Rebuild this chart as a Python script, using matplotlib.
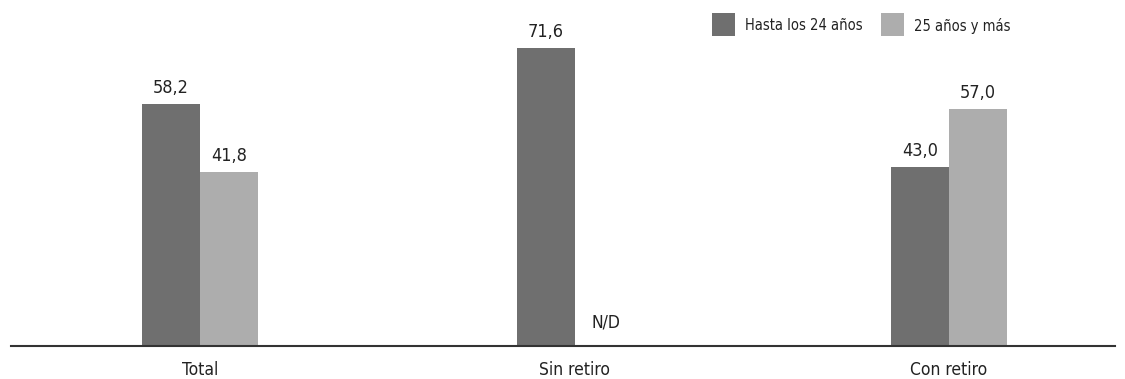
import matplotlib
matplotlib.use("Agg")
import matplotlib.pyplot as plt
from matplotlib.patches import Rectangle
import numpy as np

plt.rcParams['font.family'] = ['DejaVu Sans']
plt.rcParams['font.stretch'] = 'condensed'

categories = ["Total", "Sin retiro", "Con retiro"]
series_names = ["Hasta los 24 años", "25 años y más"]
young = [58.2, 71.6, 43.0]
older = [41.8, None, 57.0]
missing_label = "N/D"

dark = "#6f6f6f"
light = "#adadad"
txt = "#222222"

W, H = 1125, 379
fig = plt.figure(figsize=(W / 100, H / 100), dpi=100)
ax = fig.add_axes([11 / W, 1 - 346 / H, (1115 - 11) / W, 346 / H])

x = np.arange(len(categories))
w = 0.155
ymax = 346 / 4.158

for i, (a, b) in enumerate(zip(young, older)):
    ax.bar(x[i] - w / 2, a, width=w, color=dark, linewidth=0)
    ax.annotate(f"{a:.1f}".replace(".", ","), (x[i] - w / 2, a), xytext=(0, 5),
                textcoords="offset points", ha="center", va="bottom", fontsize=13, color=txt)
    if b is None:
        ax.annotate(missing_label, (x[i] + w / 2, 0), xytext=(2, 17),
                    textcoords="offset points", ha="center", va="center", fontsize=12.5, color=txt)
    else:
        ax.bar(x[i] + w / 2, b, width=w, color=light, linewidth=0)
        ax.annotate(f"{b:.1f}".replace(".", ","), (x[i] + w / 2, b), xytext=(0, 5),
                    textcoords="offset points", ha="center", va="bottom", fontsize=13, color=txt)

ax.set_xlim(-0.505, 2.443)
ax.set_ylim(0, ymax)
for s in ["top", "right", "left"]:
    ax.spines[s].set_visible(False)
ax.spines["bottom"].set_color("#333333")
ax.spines["bottom"].set_linewidth(1.5)
ax.set_yticks([])
ax.set_xticks(x)
ax.set_xticklabels(categories, fontsize=12.5, color=txt)
ax.tick_params(axis="x", length=0, pad=11)

# Legend: square swatches with labels, laid out in figure pixels
swatch = 23
for left, color, name in [(712, dark, series_names[0]), (881, light, series_names[1])]:
    fig.patches.append(Rectangle((left / W, 1 - (13 + swatch) / H), swatch / W, swatch / H,
                                 transform=fig.transFigure, color=color, linewidth=0))
    fig.text((left + swatch + 10) / W, 1 - 30.5 / H, name, ha="left", va="baseline",
             fontsize=10.5, color=txt)

fig.savefig("out.png", dpi=100)
